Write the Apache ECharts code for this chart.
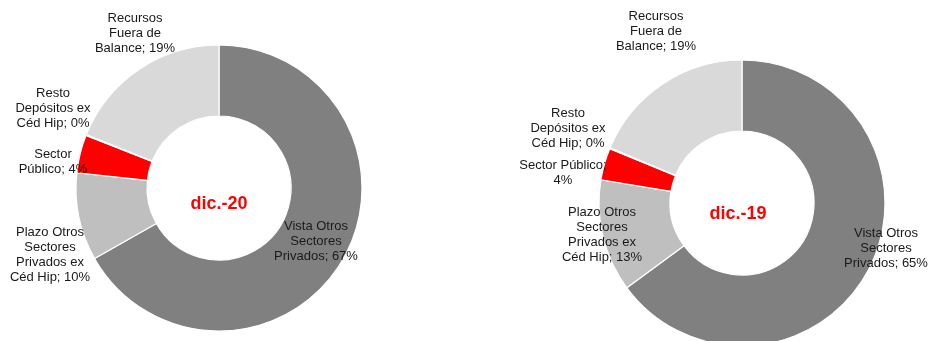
<!DOCTYPE html>
<html>
<head>
<meta charset="utf-8">
<script src="https://cdn.jsdelivr.net/npm/echarts@6/dist/echarts.min.js"></script>
<style>
html,body{margin:0;padding:0;background:#fff;}
#chart{width:928px;height:341px;}
</style>
</head>
<body>
<div id="chart"></div>
<script>
// Categories (clockwise from top)
var categories = ['Vista Otros Sectores Privados', 'Plazo Otros Sectores Privados ex Céd Hip', 'Sector Público', 'Resto Depósitos ex Céd Hip', 'Recursos Fuera de Balance'];
// Shares (%)
var valuesDic20 = [66.8, 9.9, 4.3, 0.1, 18.9];
var valuesDic19 = [64.9, 12.7, 3.6, 0.1, 18.7];
// Displayed label wording (as wrapped in the reference)
var labelsDic20 = ['Vista Otros\nSectores\nPrivados; ', 'Plazo Otros\nSectores\nPrivados ex\nCéd Hip; ', 'Sector\nPúblico; ', 'Resto\nDepósitos ex\nCéd Hip; ', 'Recursos\nFuera de\nBalance; '];
var labelsDic19 = ['Vista Otros\nSectores\nPrivados; ', 'Plazo Otros\nSectores\nPrivados ex\nCéd Hip; ', 'Sector Público;\n', 'Resto\nDepósitos ex\nCéd Hip; ', 'Recursos\nFuera de\nBalance; '];
var titles = ['dic.-20', 'dic.-19'];

// Styling / layout
var colors = ['#808080', '#BFBFBF', '#FF0000', '#A6A6A6', '#D9D9D9'];
var centers = [[219, 188], [742, 203]];
var labelOffsets = [
  [[97, 53], [-169, 67], [-166, -26], [-166, -80], [-84, -155]],
  [[144, 45], [-140, 32], [-179, -30], [-174, -75], [-86, -172]]
];
var titleOffsets = [[0, 16], [-4, 11]];

function makeSeries(k, values, labels) {
  var c = centers[k];
  return {
    type: 'pie',
    center: c,
    radius: [72, 143],
    startAngle: 90,
    clockwise: true,
    avoidLabelOverlap: false,
    silent: true,
    animation: false,
    itemStyle: { borderColor: '#ffffff', borderWidth: 1.2 },
    label: {
      show: true,
      position: 'outside',
      color: '#1a1a1a',
      fontFamily: 'Liberation Sans, Arial, sans-serif',
      fontSize: 13,
      lineHeight: 15,
      align: 'center',
      formatter: function (p) {
        return labels[p.dataIndex] + Math.round(p.value) + '%';
      }
    },
    labelLine: { show: false },
    labelLayout: function (p) {
      var o = labelOffsets[k][p.dataIndex];
      return { x: c[0] + o[0], y: c[1] + o[1], align: 'center', verticalAlign: 'middle' };
    },
    data: categories.map(function (n, i) {
      return { name: n, value: values[i], itemStyle: { color: colors[i] } };
    })
  };
}

var chart = echarts.init(document.getElementById('chart'), null, { renderer: 'canvas' });
chart.setOption({
  backgroundColor: '#ffffff',
  animation: false,
  series: [makeSeries(0, valuesDic20, labelsDic20), makeSeries(1, valuesDic19, labelsDic19)],
  graphic: titles.map(function (t, k) {
    return {
      type: 'text',
      x: centers[k][0] + titleOffsets[k][0],
      y: centers[k][1] + titleOffsets[k][1],
      style: {
        text: t,
        fill: '#FF0000',
        font: 'bold 18px "Liberation Sans", Arial, sans-serif',
        textAlign: 'center',
        textVerticalAlign: 'middle'
      }
    };
  })
});
</script>
</body>
</html>
